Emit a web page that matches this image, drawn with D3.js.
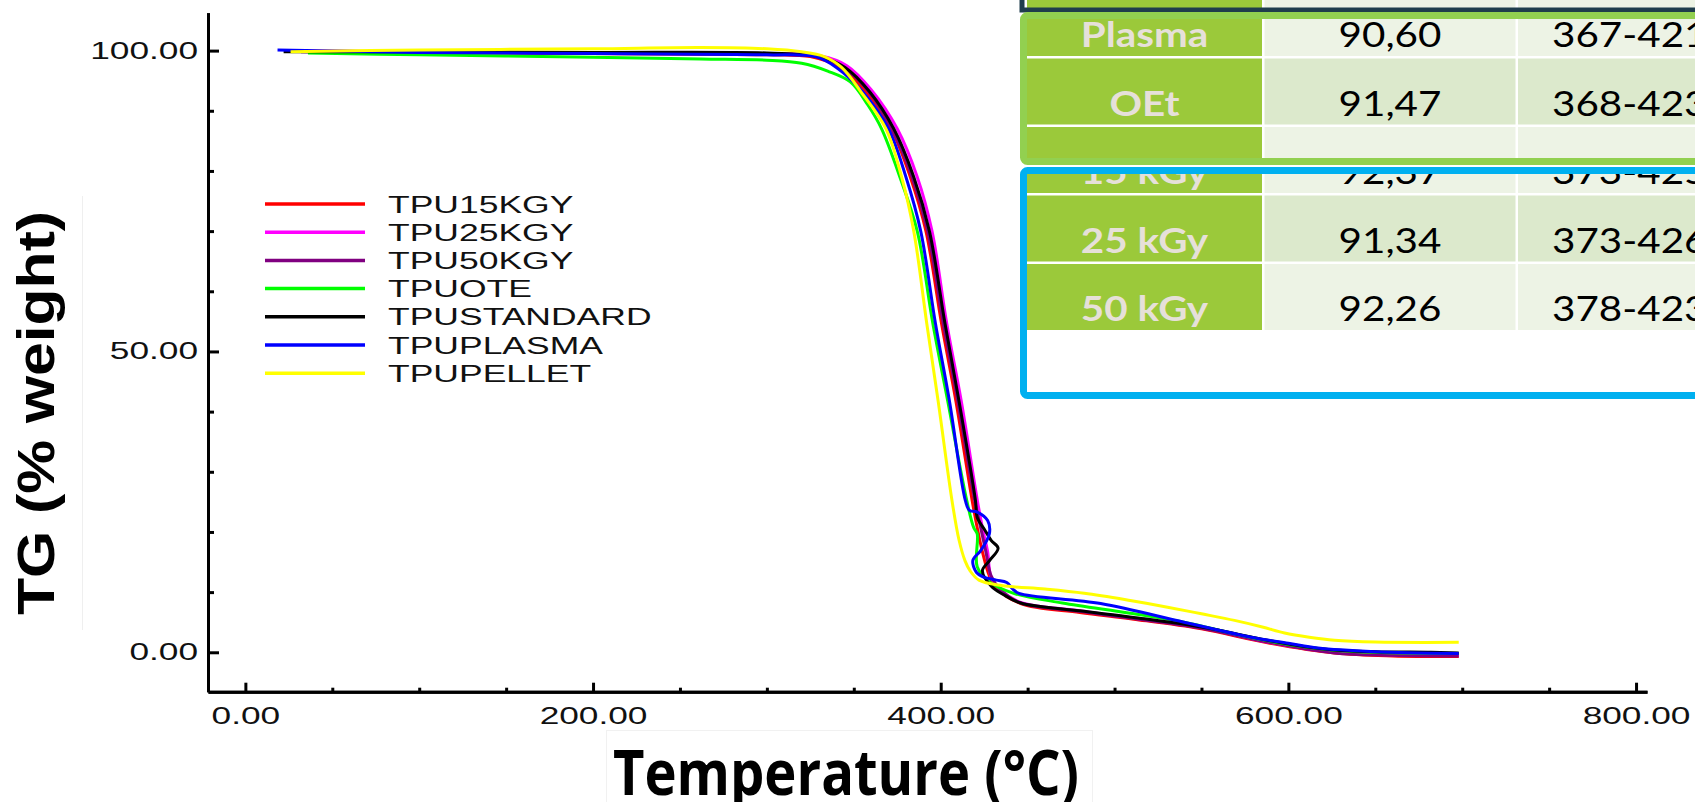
<!DOCTYPE html>
<html>
<head>
<meta charset="utf-8">
<script src="https://cdn.jsdelivr.net/npm/d3@7"></script>
<style>
  body { margin: 0; background: #fff; }
  svg { display: block; }
</style>
</head>
<body>
<div class="tg-holder"></div>
<script>
// TG curves, [temperature (°C), weight (%)]
const tpu15kgy = [[28.8,99.9],[100,99.7],[200,99.5],[300,99.3],[325,99.0],[342,97.2],[357,93.2],[371.5,87],[382.5,79],[391.5,70],[400.5,54.6],[408.7,41.8],[418.1,25.2],[421,20.7],[424,16.7],[428,12.7],[432,10.7],[446,8.1],[480,6.6],[511,5.5],[550,3.9],[588,1.6],[626.5,-0.1],[660,-0.6],[698,-0.7]];
const tpu25kgy = [[30,100],[100,99.8],[200,99.6],[300,99.5],[331,99.1],[346,97.5],[360,93.5],[375,87],[386.5,79],[395,70],[403.5,54.6],[411.8,41.8],[421.1,25.2],[424,20.7],[427,16.7],[429,12.5],[435,10.2],[446,8.3],[480,6.9],[511,5.7],[550,4.1],[588,1.7],[626.5,0],[660,-0.4],[698,-0.5]];
const tpu50kgy = [[32,99.8],[100,99.7],[200,99.6],[300,99.4],[328,99.0],[344,97.2],[358.5,93.2],[372,87],[383.5,79],[392.5,70],[401.5,54.6],[409.8,41.8],[419.6,25.2],[423,20.7],[426,16.7],[429,12.7],[434,10.5],[446,8.2],[480,6.8],[511,5.6],[550,4.0],[588,1.7],[626.5,-0.1],[660,-0.5],[698,-0.6]];
const tpuote = [[36,99.6],[100,99.3],[200,98.9],[262,98.6],[300,98.4],[320,97.9],[335,96.6],[348,94.8],[358,91],[366,87],[376.5,79],[386.5,70],[395.5,54.6],[404,41.8],[415,25.2],[419,20.7],[421,19.7],[421,14.2],[428,11.7],[442,9.8],[470,8.2],[509,6.5],[540,5.0],[570,3.0],[600,1.3],[625,0.4],[650,0],[698,-0.2]];
const tpustandard = [[22,99.8],[100,99.8],[200,99.7],[300,99.6],[330,99.0],[345,97.2],[359,93.2],[373,87],[384.5,79],[393.5,70],[402.5,54.6],[410.5,41.8],[420,25.2],[421,22.4],[425,20.5],[429,18.6],[433,17.3],[428,15.2],[424,13.6],[429,11],[436,9.6],[446,8.2],[480,6.9],[511,5.8],[550,4.2],[588,2.0],[610,0.9],[626.5,0.4],[650,0.1],[682,0],[698,-0.1]];
const tpuplasma = [[18.5,100.1],[60,99.9],[100,99.7],[200,99.5],[300,99.3],[328,99.0],[340,97.2],[355,93.2],[370,87],[380,79],[388.5,70],[397,54.6],[405,41.8],[414.2,25.2],[416.5,23.6],[421,23.3],[427,21.9],[428,19.7],[423,16.9],[418.5,15.3],[420.5,13.3],[424.8,12.5],[432,12.0],[438,11.6],[441.5,10.5],[445,9.8],[492,8.1],[540,5.0],[578.6,2.5],[600,1.5],[617,0.7],[650,0.1],[698,-0.2]];
const tpupellet = [[26,99.8],[100,100.1],[200,100.3],[262,100.5],[300,100.3],[320,99.8],[333,99.0],[343,97.2],[354,93.2],[368.5,87],[377.5,79],[384.5,70],[392,54.6],[398.5,41.8],[406.5,25.2],[410.5,18.7],[414,15.2],[417,13.5],[422,12.0],[435,11.1],[460,10.5],[482.6,9.8],[509,8.6],[530.5,7.5],[550,6.4],[569,5.3],[585,4.2],[597.8,3.2],[612,2.5],[626.5,2.0],[650,1.7],[698,1.65]];

const seriesNames = ["TPU15KGY", "TPU25KGY", "TPU50KGY", "TPUOTE", "TPUSTANDARD", "TPUPLASMA", "TPUPELLET"];
const seriesData = [tpu15kgy, tpu25kgy, tpu50kgy, tpuote, tpustandard, tpuplasma, tpupellet];
const seriesColors = ["#ff0000", "#ff00ff", "#800080", "#00ff00", "#000000", "#0000ff", "#ffff00"];

const xMajorTicks = [0, 200, 400, 600, 800];
const xMinorTicks = [50, 100, 150, 250, 300, 350, 450, 500, 550, 650, 700, 750];
const yMajorTicks = [0, 50, 100];
const yMinorTicks = [10, 20, 30, 40, 60, 70, 80, 90];

// the table pasted over the top right corner
const tableLabels = ["Plasma", "OEt", "15 kGy", "25 kGy", "50 kGy"];
const tableCol2 = ["90,60", "91,47", "92,37", "91,34", "92,26"];
const tableCol3 = ["367-421", "368-423", "373-425", "373-426", "378-423"];

var W = 1695, H = 802;
var svg = d3.select(".tg-holder").append("svg")
    .attr("width", W).attr("height", H);

/* the source picture is stretched sideways, so text is widened too */
function widen(sel, k) {
  sel.each(function () {
    var w = this.getComputedTextLength();
    d3.select(this).attr("textLength", w * k).attr("lengthAdjust", "spacingAndGlyphs");
  });
}

var scaleX = d3.scaleLinear().domain([-21.5, 806.3]).range([208, 1647]);
var scaleY = d3.scaleLinear().domain([-6.55, 106.3]).range([691.7, 12.7]);

// faint frames of the pasted title boxes
svg.append("line").attr("x1", 82.5).attr("x2", 82.5).attr("y1", 196).attr("y2", 630)
    .attr("stroke", "#efefef").attr("stroke-width", 1);
svg.append("rect").attr("x", 606.5).attr("y", 730.5).attr("width", 486).attr("height", 80)
    .attr("fill", "none").attr("stroke", "#f1f1f1").attr("stroke-width", 1);

var grp = svg.append("g");

/* minor ticks first, then the labelled axes */
grp.append("g").attr("transform", `translate(0, ${scaleY.range()[0]})`)
    .call(d3.axisBottom(scaleX).tickValues(xMinorTicks).tickSize(-4).tickSizeOuter(0).tickFormat(""));
grp.append("g").attr("transform", `translate(${scaleX.range()[0]}, 0)`)
    .call(d3.axisLeft(scaleY).tickValues(yMinorTicks).tickSize(-6).tickSizeOuter(0).tickFormat(""));

var xAxis = grp.append("g").attr("class", "x-axis")
    .attr("transform", `translate(0, ${scaleY.range()[0]})`)
    .call(d3.axisBottom(scaleX).tickValues(xMajorTicks).tickSize(-9).tickSizeOuter(0)
      .tickPadding(10).tickFormat(d3.format(".2f")));
var yAxis = grp.append("g").attr("class", "y-axis")
    .attr("transform", `translate(${scaleX.range()[0]}, 0)`)
    .call(d3.axisLeft(scaleY).tickValues(yMajorTicks).tickSize(-11).tickSizeOuter(0)
      .tickPadding(10).tickFormat(d3.format(".2f")));

grp.selectAll(".domain, .tick line").attr("stroke", "#000").attr("stroke-width", 3);
grp.selectAll(".tick text")
    .attr("font-family", "'Liberation Sans', Arial, sans-serif")
    .attr("font-size", 23.5).attr("fill", "#111");
xAxis.selectAll(".tick text").attr("dy", "0.95em");
widen(grp.selectAll(".tick text"), 1.5);

// curves
var line = d3.line()
    .x(d => scaleX(d[0]))
    .y(d => scaleY(d[1]))
    .curve(d3.curveCatmullRom.alpha(0.5));

svg.append("g").selectAll("path.tg")
    .data(seriesData)
    .enter().append("path")
    .attr("class", "tg")
    .attr("d", line)
    .attr("fill", "none")
    .attr("stroke", (d, i) => seriesColors[i])
    .attr("stroke-width", 3)
    .attr("stroke-linejoin", "round");

// legend
var yPad = 28.2;
var legend = svg.append("g").attr("class", "legend");
seriesNames.forEach(function (name, i) {
  legend.append("line")
      .attr("x1", 265).attr("x2", 365)
      .attr("y1", 204 + i * yPad).attr("y2", 204 + i * yPad)
      .attr("stroke", seriesColors[i]).attr("stroke-width", 3.5);
  legend.append("text")
      .attr("x", 388).attr("y", 204 + i * yPad + 8.5)
      .attr("font-family", "'Liberation Sans', Arial, sans-serif")
      .attr("font-size", 23.5).attr("fill", "#111")
      .text(name);
});
widen(legend.selectAll("text"), 1.51);

/* Y-axis label */
svg.append("text")
    .attr("transform", "rotate(270)")
    .attr("x", -413).attr("y", 54)
    .attr("text-anchor", "middle")
    .attr("font-family", "'Liberation Sans', Arial, sans-serif")
    .attr("font-weight", "bold").attr("font-size", 51)
    .attr("textLength", 404).attr("lengthAdjust", "spacingAndGlyphs")
    .text("TG (% weight)");

/* X-axis label */
svg.append("text")
    .attr("x", 613).attr("y", 795)
    .attr("font-family", "'Open Sans', sans-serif")
    .attr("font-weight", "bold").attr("font-size", 63)
    .attr("textLength", 466).attr("lengthAdjust", "spacingAndGlyphs")
    .text("Temperature (°C)");

// ---- table overlay, top right ----
var tbl = svg.append("g").attr("class", "tbl");
var rowTop = i => -10 + i * 68.5, rowH = 68.5;
var col1 = [1027, 1262], col2 = [1264.5, 1515.5], col3 = [1518, 1760];
var green = "#9bc93a", light = "#edf3e5", darker = "#dce9cc";

tableLabels.forEach(function (lab, i) {
  var y0 = rowTop(i);
  tbl.append("rect").attr("x", col1[0]).attr("y", y0).attr("width", col1[1] - col1[0]).attr("height", rowH - 2.5).attr("fill", green);
  tbl.append("rect").attr("x", col2[0]).attr("y", y0).attr("width", col2[1] - col2[0]).attr("height", rowH - 2.5).attr("fill", i % 2 ? darker : light);
  tbl.append("rect").attr("x", col3[0]).attr("y", y0).attr("width", col3[1] - col3[0]).attr("height", rowH - 2.5).attr("fill", i % 2 ? darker : light);
});

svg.append("defs").append("clipPath").attr("id", "cutRow")
  .append("rect").attr("x", 1000).attr("y", 167).attr("width", 700).attr("height", 300);

var txt = tbl.append("g");
tableLabels.forEach(function (lab, i) {
  var base = rowTop(i) + 57;
  var row = txt.append("g").attr("clip-path", i === 2 ? "url(#cutRow)" : null);
  row.append("text").attr("class", "t1")
      .attr("x", (col1[0] + col1[1]) / 2).attr("y", base)
      .attr("text-anchor", "middle")
      .attr("font-family", "Lato, sans-serif").attr("font-weight", "bold")
      .attr("font-size", 34.5).attr("fill", "#e6e0d9")
      .text(lab);
  row.append("text").attr("class", "t2")
      .attr("x", (col2[0] + col2[1]) / 2).attr("y", base)
      .attr("text-anchor", "middle")
      .attr("font-family", "Lato, sans-serif")
      .attr("font-size", 34.5).attr("fill", "#000")
      .text(tableCol2[i]);
  row.append("text").attr("class", "t3")
      .attr("x", 1552).attr("y", base)
      .attr("font-family", "Lato, sans-serif")
      .attr("font-size", 34.5).attr("fill", "#000")
      .text(tableCol3[i]);
});
widen(txt.selectAll("text"), 1.17);

// white below the last row inside the blue frame
tbl.append("rect").attr("x", 1027).attr("y", rowTop(5) - 2.5).attr("width", 700).attr("height", 70).attr("fill", "#fff");
// strip hiding the top of the third row
tbl.append("rect").attr("x", 1020).attr("y", 158).attr("width", 700).attr("height", 10).attr("fill", "#fff");

// dark outline at the very top
tbl.append("path")
    .attr("d", "M1022,-10 L1022,10 L1700,10")
    .attr("fill", "none").attr("stroke", "#1f3d4c").attr("stroke-width", 5);
// green frame
tbl.append("rect").attr("x", 1023.5).attr("y", 15.5).attr("width", 720).attr("height", 146)
    .attr("rx", 4).attr("fill", "none").attr("stroke", "#92d050").attr("stroke-width", 7);
// blue frame
tbl.append("rect").attr("x", 1023.5).attr("y", 170.5).attr("width", 720).attr("height", 225)
    .attr("rx", 4).attr("fill", "none").attr("stroke", "#00b0f0").attr("stroke-width", 7);
</script>
</body>
</html>
